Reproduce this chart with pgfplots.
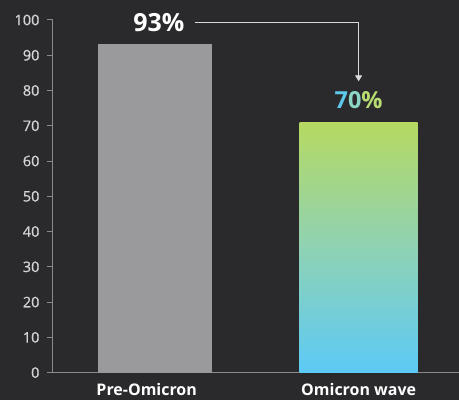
\documentclass[border=0pt]{standalone}
\usepackage{pgfplots}
\pgfplotsset{compat=1.18}
\usepackage{fontspec}
\setmainfont{Open Sans}
\newfontfamily\semib{Open Sans}[FakeBold=0.8]
\usetikzlibrary{backgrounds,arrows.meta}
\definecolor{bg}{HTML}{2A2A2D}
\definecolor{barg}{HTML}{9A9A9C}
\definecolor{gtop}{HTML}{B5D962}
\definecolor{gmid}{HTML}{8FD2B4}
\definecolor{gbot}{HTML}{5CCAF6}
\definecolor{axc}{HTML}{8A8A8C}
\definecolor{tickc}{HTML}{D4D4D6}
\begin{document}
\begin{tikzpicture}
\begin{axis}[
  name=ax,
  scale only axis,
  width=406pt, height=353pt,
  xmin=-0.5, xmax=1.49,
  ymin=0, ymax=100,
  axis lines*=left,
  axis line style={axc, line width=1pt},
  ytick={0,10,...,100},
  tick align=outside,
  major tick length=6pt,
  y tick style={axc, line width=1pt},
  xtick={-0.04,1},
  xticklabels={Pre-Omicron,Omicron wave},
  x tick style={draw=none},
  yticklabel style={font=\fontsize{14.5}{16}\selectfont\semib, text=tickc, xshift=-4pt},
  xticklabel style={font=\fontsize{16}{18}\selectfont\bfseries, text=white, yshift=-1pt},
  /pgf/number format/assume math mode=true,
  clip=false,
]
\addplot[ybar, bar width=114pt, draw=none, fill=barg] coordinates {(0,93.2)};
\addplot[ybar, bar width=118pt, draw=none, shading=axis, top color=gtop, bottom color=gbot, middle color=gmid] coordinates {(1,70.8)};
\node[font=\fontsize{25}{27}\selectfont\bfseries, text=white] at (axis cs:0.02,99.2) {93\%};
\node[font=\fontsize{23.5}{26}\selectfont\bfseries] at (axis cs:1.0,77.4) {\textcolor[HTML]{5EC8EA}{7}\textcolor[HTML]{8CD6C8}{0}\textcolor[HTML]{B6DC72}{\%}};
\draw[white!85!black, line width=0.8pt, -{Triangle[length=6pt,width=7pt]}] (axis cs:0.196,99.2) -- (axis cs:1.0,99.2) -- (axis cs:1.0,82.6);
\end{axis}
\begin{scope}[on background layer]
\fill[bg] ([shift={(-53pt,-27pt)}]ax.south west) rectangle ++(459pt,400pt);
\end{scope}
\end{tikzpicture}
\end{document}
